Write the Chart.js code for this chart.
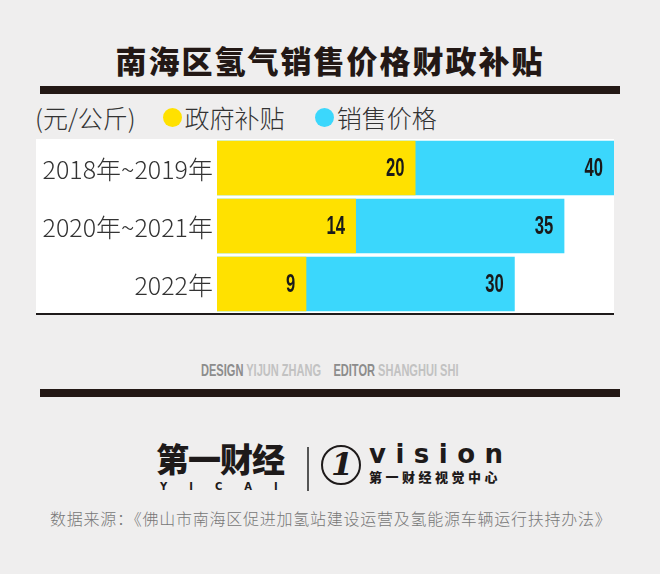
<!DOCTYPE html>
<html>
<head>
<meta charset="utf-8">
<script src="https://cdn.jsdelivr.net/npm/chart.js@4"></script>
<style>
  html,body{margin:0;padding:0;}
  #page{position:relative;width:660px;height:574px;background:#efeeee;overflow:hidden;font-family:"Noto Sans CJK SC","Noto Sans",sans-serif;}
  .abs{position:absolute;white-space:nowrap;}
  #title{left:0;width:660px;top:40px;text-align:center;font-size:31px;font-weight:900;letter-spacing:2px;color:#231815;line-height:40px;}
  .bar{position:absolute;left:40px;width:580px;height:8px;background:#231815;}
  #legend{left:35px;top:100px;font-size:25px;font-weight:300;color:#333;line-height:34px;display:flex;align-items:center;}
  .dot{display:inline-block;width:19px;height:19px;border-radius:50%;margin-right:3px;}
  #chartbox{left:36px;top:139px;width:578px;height:176px;background:#fff;}
  #credits{left:201px;top:359px;font-family:"Liberation Sans","Arial",sans-serif;font-weight:bold;font-size:17px;line-height:24px;transform:scaleX(0.65);transform-origin:0 0;}
  #credits .k{color:#8c8c8c;} #credits .v{color:#c2c2c2;}
  #src{left:50px;top:506px;font-size:16px;font-weight:300;color:#777;line-height:24px;letter-spacing:0.75px;}
</style>
</head>
<body>
<div id="page">
  <div id="title" class="abs">南海区氢气销售价格财政补贴</div>
  <div class="bar" style="top:86px"></div>
  <div id="legend" class="abs"></div>
  <div id="chartbox" class="abs"><canvas id="c" width="578" height="176"></canvas></div>
  <div id="credits" class="abs"><span class="k">DESIGN</span> <span class="v">YIJUN ZHANG</span>&nbsp;&nbsp;&nbsp;&nbsp;<span class="k">EDITOR</span> <span class="v">SHANGHUI SHI</span></div>
  <div class="bar" style="top:389px"></div>

  <!-- logos -->
  <div class="abs" style="left:156px;top:438px;font-size:33px;font-weight:900;color:#1e1a1a;line-height:40px;letter-spacing:-1px;">第一财经</div>
  <div class="abs" style="left:160px;top:481px;font-size:10px;font-weight:900;color:#1e1a1a;line-height:12px;letter-spacing:22px;font-family:'DejaVu Sans',sans-serif;">YICAI</div>
  <div class="abs" style="left:307px;top:447px;width:2px;height:44px;background:#555;"></div>
  <div class="abs" style="left:321px;top:445px;width:36px;height:36px;border:2.5px solid #1e1a1a;border-radius:50%;"></div>
  <div class="abs" style="left:331px;top:444px;font-size:32px;font-weight:bold;font-style:italic;color:#1e1a1a;font-family:'DejaVu Serif',serif;line-height:40px;">1</div>
  <div class="abs" style="left:369px;top:438px;font-size:26px;font-weight:bold;color:#1e1a1a;letter-spacing:9.5px;line-height:32px;font-family:'DejaVu Sans',sans-serif;">vision</div>
  <div class="abs" style="left:369px;top:468px;font-size:13px;font-weight:900;color:#1e1a1a;letter-spacing:3.5px;line-height:18px;">第一财经视觉中心</div>

  <div id="src" class="abs">数据来源：《佛山市南海区促进加氢站建设运营及氢能源车辆运行扶持办法》</div>
</div>
<script>
// ---- data ----
const categories = ['2018年~2019年', '2020年~2021年', '2022年'];
const seriesNames = ['政府补贴', '销售价格'];
const subsidy = [20, 14, 9];
const price = [40, 35, 30];
const unitLabel = '(元/公斤)';
const colors = ['#FFE100', '#3BD7FC'];

// legend (HTML)
const lg = document.getElementById('legend');
let html = '<span style="margin-right:27px">' + unitLabel + '</span>';
seriesNames.forEach((n, i) => {
  html += '<span class="dot" style="background:' + colors[i] + '"></span><span style="margin-right:30px">' + n + '</span>';
});
lg.innerHTML = html;

// value labels at bar ends (condensed bold)
const valueLabels = {
  id: 'valueLabels',
  afterDatasetsDraw(chart) {
    const ctx = chart.ctx;
    chart.data.datasets.forEach((ds, i) => {
      chart.getDatasetMeta(i).data.forEach((bar, j) => {
        ctx.save();
        ctx.font = 'bold 26px "Liberation Sans", Arial, sans-serif';
        ctx.fillStyle = '#1a1a1a';
        ctx.textAlign = 'right';
        ctx.textBaseline = 'middle';
        ctx.translate(bar.x - 11, bar.y + 1);
        ctx.scale(0.64, 1);
        ctx.fillText(String(ds.data[j]), 0, 0);
        ctx.restore();
      });
    });
  }
};
// category labels drawn at the category scale positions
const catLabels = {
  id: 'catLabels',
  afterDraw(chart) {
    const ctx = chart.ctx;
    const ys = chart.scales.y;
    ctx.save();
    ctx.font = '300 25px "Noto Sans CJK SC", "Noto Sans", sans-serif';
    ctx.fillStyle = '#333';
    ctx.textAlign = 'right';
    ctx.textBaseline = 'middle';
    chart.data.labels.forEach((l, i) => {
      ctx.fillText(l, chart.chartArea.left - 4, ys.getPixelForValue(i) + 1);
    });
    ctx.restore();
  }
};
const baseLine = {
  id: 'baseLine',
  afterDraw(chart) {
    const ctx = chart.ctx;
    ctx.save();
    ctx.fillStyle = '#1e1a1a';
    ctx.fillRect(0, chart.chartArea.bottom, chart.width, 2);
    ctx.restore();
  }
};

new Chart(document.getElementById('c'), {
  type: 'bar',
  data: {
    labels: categories,
    datasets: [
      { label: seriesNames[0], data: subsidy, backgroundColor: colors[0], grouped: false, barPercentage: 0.94, categoryPercentage: 1 },
      { label: seriesNames[1], data: price, backgroundColor: colors[1], grouped: false, barPercentage: 0.94, categoryPercentage: 1 }
    ]
  },
  options: {
    indexAxis: 'y',
    responsive: false,
    animation: false,
    layout: { padding: { left: 0, right: 0, top: 0, bottom: 2 } },
    plugins: { legend: { display: false }, tooltip: { enabled: false } },
    scales: {
      x: { display: false, min: 0, max: 40 },
      y: {
        grid: { display: false, drawTicks: false },
        border: { display: false },
        ticks: { display: false },
        afterFit(scale) { scale.width = 181; }
      }
    }
  },
  plugins: [valueLabels, catLabels, baseLine]
});
</script>
</body>
</html>
